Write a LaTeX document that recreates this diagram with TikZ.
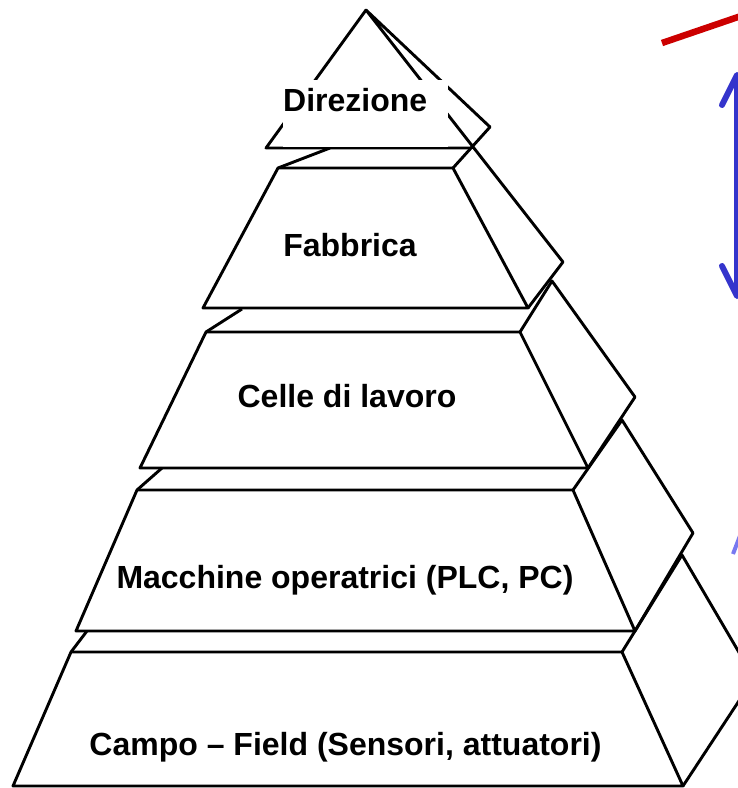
\documentclass[tikz,border=0pt]{standalone}
\usepackage{fontspec}
\setmainfont{Liberation Sans}
\usepackage{tikz}
\usetikzlibrary{arrows.meta}
\definecolor{redline}{HTML}{CC0000}
\definecolor{bluearr}{HTML}{3434CC}
\definecolor{bluefaint}{HTML}{7878F0}

\begin{document}
\begin{tikzpicture}[x=1pt,y=-1pt,
  face/.style={draw=black,line width=2.9pt,line join=round},
  lbl/.style={font=\fontsize{32}{38}\selectfont\bfseries,inner sep=0pt},
  barb/.style={bluearr,line width=6pt,
               {Straight Barb[length=30pt,width=30pt,round]}-{Straight Barb[length=30pt,width=30pt,round]}},
]
\useasboundingbox (0,0) rectangle (738,788);
\clip (0,0) rectangle (738,788);

% Campo
\draw[face] (71,652) -- (622,652) -- (683,786) -- (13,786) -- cycle;
\draw[face] (71,652) -- (87,631);
\draw[face] (622,652) -- (682,555) -- (754,678) -- (683,786);
% Macchine
\draw[face] (137,490) -- (573,490) -- (635,631) -- (76,631) -- cycle;
\draw[face] (137,490) -- (162,468);
\draw[face] (573,490) -- (622,420) -- (693,533) -- (635,631);
% Celle
\draw[face] (206,332) -- (520,332) -- (588,468) -- (140,468) -- cycle;
\draw[face] (206,332) -- (242,309);
\draw[face] (520,332) -- (552,281) -- (635,397) -- (588,468);
% Fabbrica
\draw[face] (278,168) -- (453,168) -- (528,308) -- (203,308) -- cycle;
\draw[face] (278,168) -- (330,148);
\draw[face] (453,168) -- (490,127) -- (366,10) -- (563,262) -- (528,308);
% Direzione
\draw[face] (366,10) -- (266,148) -- (471,148);

\node[lbl,fill=white,anchor=north west,text width=165pt,text height=31pt,text depth=36pt]
  (dir) at (283,80) {Direzione};
\node[lbl,anchor=base] (fab) at (350,256) {Fabbrica};
\node[lbl,anchor=base] (cel) at (347,407) {Celle di lavoro};
\node[lbl,anchor=base] (mac) at (345,588) {Macchine operatrici (PLC, PC)};
\node[lbl,anchor=base] (cam) at (345.5,755) {Campo – Field (Sensori, attuatori)};

\coordinate (redA) at (662,43);
\coordinate (redB) at (760,9.5);
\draw[redline,line width=6.5pt] (redA) -- (redB);

\coordinate (upT) at (737,72);
\coordinate (dnT) at (737,299);
\draw[barb] (upT) -- (dnT);

\coordinate (fntA) at (733,554);
\coordinate (fntB) at (743,528);
\draw[bluefaint,line width=4pt] (fntA) -- (fntB);
\end{tikzpicture}
\end{document}
